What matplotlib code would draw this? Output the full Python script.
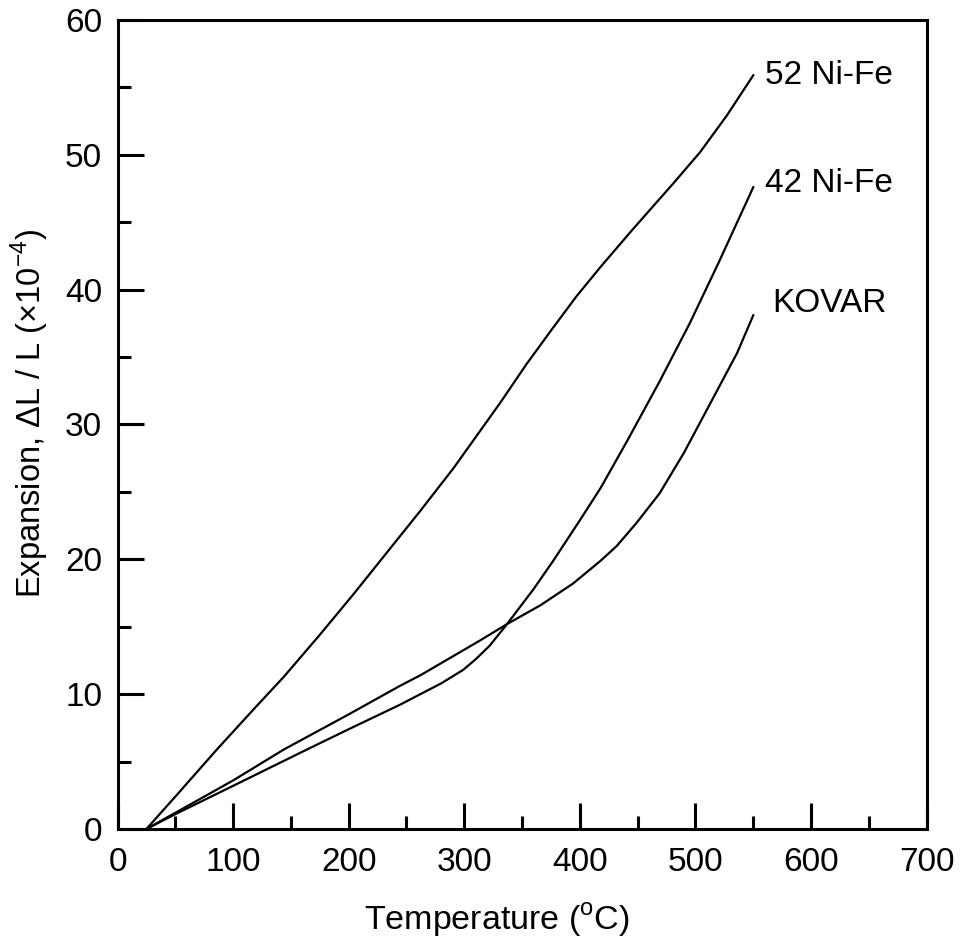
import matplotlib
matplotlib.use("Agg")
import matplotlib.pyplot as plt
from matplotlib.ticker import MultipleLocator

plt.rcParams['font.family'] = ['Liberation Sans', 'DejaVu Sans']
plt.rcParams['mathtext.fontset'] = 'custom'
plt.rcParams['mathtext.rm'] = 'Liberation Sans'

# thermal expansion curves (temperature in C, dL/L in 1e-4)
temp_52 = [25, 50, 86, 118, 144, 175, 204, 233, 262, 291, 311, 331, 354, 377,
           397, 418, 446, 481, 504, 527, 550]
exp_52 = [0, 2.4, 5.9, 8.9, 11.3, 14.4, 17.4, 20.5, 23.6, 26.8, 29.2, 31.6, 34.5, 37.2,
          39.5, 41.7, 44.5, 47.9, 50.2, 52.9, 55.9]

temp_42 = [25, 50, 100, 164, 200, 244, 262, 280, 299, 310, 322, 337, 360, 377, 400, 418,
           441, 469, 495, 520, 550]
exp_42 = [0, 1.1, 3.2, 5.9, 7.4, 9.2, 10.0, 10.8, 11.8, 12.6, 13.6, 15.2, 17.8, 19.9, 22.9, 25.3,
          28.8, 33.2, 37.5, 42.0, 47.6]

temp_kovar = [25, 50, 100, 144, 200, 244, 262, 270, 314, 337, 366, 394, 418, 432, 449,
              469, 490, 513, 536, 550]
exp_kovar = [0, 1.2, 3.6, 5.9, 8.5, 10.6, 11.4, 11.8, 14.0, 15.2, 16.6, 18.2, 19.9, 21.0, 22.7,
             24.9, 27.9, 31.6, 35.3, 38.1]

labels = ["52 Ni-Fe", "42 Ni-Fe", "KOVAR"]

fig = plt.figure(figsize=(9.6, 9.43), dpi=100)
ax = fig.add_axes([0.1224, 0.1209, 0.8429, 0.8579])

for t, e in [(temp_52, exp_52), (temp_42, exp_42), (temp_kovar, exp_kovar)]:
    ax.plot(t, e, color="black", lw=1.6, solid_joinstyle="round")

ax.text(560, 55.9, labels[0], fontsize=24, va="center", ha="left")
ax.text(560, 47.9, labels[1], fontsize=24, va="center", ha="left")
ax.text(566, 39.0, labels[2], fontsize=24, va="center", ha="left")

ax.set_xlim(0, 700)
ax.set_ylim(0, 60)
ax.xaxis.set_major_locator(MultipleLocator(100))
ax.xaxis.set_minor_locator(MultipleLocator(50))
ax.yaxis.set_major_locator(MultipleLocator(10))
ax.yaxis.set_minor_locator(MultipleLocator(5))

ax.tick_params(which="both", direction="in", width=2.2, labelsize=24)
ax.tick_params(axis="x", which="both", pad=13)
ax.tick_params(axis="y", which="both", pad=11)
ax.tick_params(which="major", length=19)
ax.tick_params(which="minor", length=9.5)
for s in ax.spines.values():
    s.set_linewidth(2.2)

ax.set_xlabel(r"Temperature ($^{\mathrm{o}}$C)", fontsize=24.5, va="center")
ax.xaxis.set_label_coords(0.469, -0.113)
ax.set_ylabel(r"Expansion, $\Delta$L / L ($\times$10$^{\mathrm{-4}}$)", fontsize=23.5, va="center")
ax.yaxis.set_label_coords(-0.108, 0.514)

fig.savefig("out.png", dpi=100)
